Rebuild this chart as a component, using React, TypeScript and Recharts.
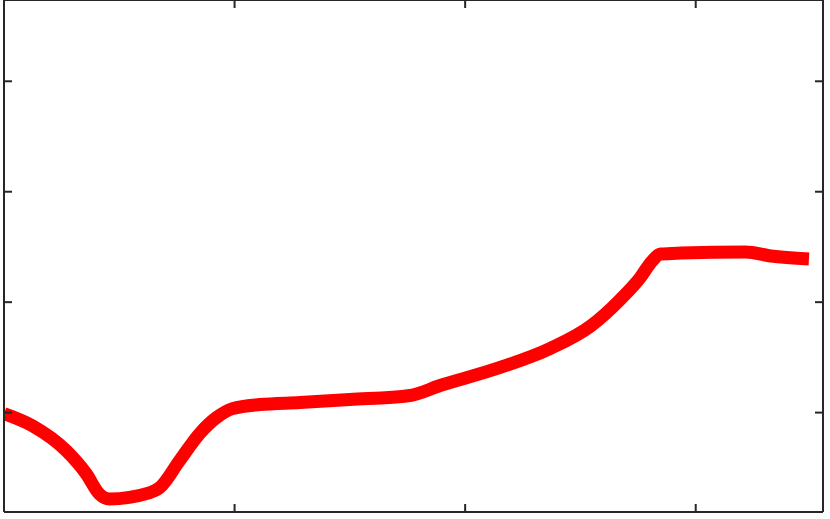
import React from 'react';
import { LineChart, Line, XAxis, YAxis } from 'recharts';

// Curve samples (x in tick units, y in tick units)
const xValues = [
  0, 0.122, 0.27, 0.357, 0.413, 0.457, 0.63, 0.674, 0.761, 0.848, 0.922,
  0.991, 1.109, 1.283, 1.5, 1.761, 1.891, 2.152, 2.37, 2.543, 2.674, 2.761,
  2.804, 2.848, 2.935, 3.217, 3.326, 3.491,
];
const yValues = [
  0.991, 0.882, 0.655, 0.445, 0.264, 0.218, 0.273, 0.318, 0.564, 0.809,
  0.955, 1.036, 1.073, 1.091, 1.118, 1.155, 1.245, 1.409, 1.582, 1.782,
  2.027, 2.227, 2.355, 2.436, 2.445, 2.455, 2.418, 2.391,
];
const xTicks = [1, 2, 3];
const yTicks = [1, 2, 3, 4];

const data = xValues.map((x, i) => ({ x, y: yValues[i] }));

const axisColor = '#262626';
const blank = () => '';
const tickStyle = { stroke: axisColor, strokeWidth: 2 };

export default function App() {
  return (
    <div style={{ position: 'absolute', left: 0, top: 0, background: '#fff' }}>
      <LineChart
        width={830}
        height={519}
        data={data}
        margin={{ top: 0, right: 7, bottom: 7, left: 4 }}
      >
        <XAxis
          xAxisId="bottom"
          dataKey="x"
          type="number"
          domain={[0, 3.552]}
          ticks={xTicks}
          orientation="bottom"
          mirror
          height={1}
          tickSize={8}
          tickLine={tickStyle}
          tickFormatter={blank}
          stroke={axisColor}
          strokeWidth={2}
          allowDataOverflow
        />
        <XAxis
          xAxisId="top"
          dataKey="x"
          type="number"
          domain={[0, 3.552]}
          ticks={xTicks}
          orientation="top"
          mirror
          height={1}
          tickSize={8}
          tickLine={tickStyle}
          tickFormatter={blank}
          stroke={axisColor}
          strokeWidth={2}
          allowDataOverflow
        />
        <YAxis
          yAxisId="left"
          type="number"
          domain={[0.1, 4.736]}
          ticks={yTicks}
          orientation="left"
          mirror
          width={1}
          tickSize={8}
          tickLine={tickStyle}
          tickFormatter={blank}
          stroke={axisColor}
          strokeWidth={2}
          allowDataOverflow
        />
        <YAxis
          yAxisId="right"
          type="number"
          domain={[0.1, 4.736]}
          ticks={yTicks}
          orientation="right"
          mirror
          width={1}
          tickSize={8}
          tickLine={tickStyle}
          tickFormatter={blank}
          stroke={axisColor}
          strokeWidth={2}
          allowDataOverflow
        />
        <Line
          xAxisId="bottom"
          yAxisId="left"
          dataKey="y"
          type="monotone"
          stroke="#ff0000"
          strokeWidth={13}
          strokeLinejoin="round"
          dot={false}
          activeDot={false}
          isAnimationActive={false}
        />
      </LineChart>
    </div>
  );
}
